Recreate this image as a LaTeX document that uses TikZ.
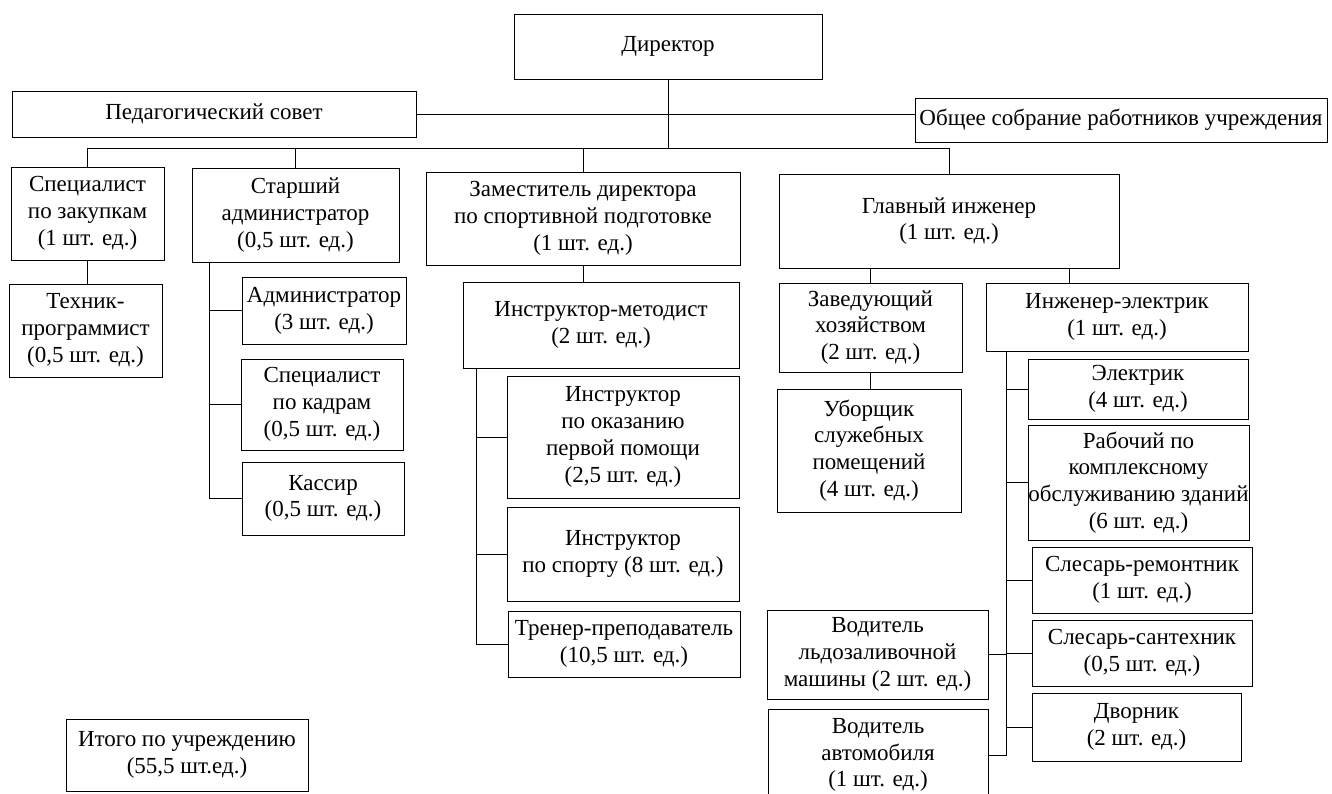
\documentclass[tikz,border=0pt]{standalone}
\usepackage{fontspec}
\setmainfont{Liberation Serif}
\usetikzlibrary{positioning,calc}

\begin{document}
\begin{tikzpicture}[x=1pt, y=-1pt,
						unit/.style={draw, rectangle, align=center, inner sep=0pt, line width=1pt},
						every node/.style={font=\fontsize{23}{26.8}\selectfont},
						link/.style={line width=1pt}]
	\useasboundingbox (0,0) rectangle (1332,793);

	% top level
	\node[unit, minimum width=308pt, minimum height=65pt] (dir) at (668,46.5) {Директор};
	\node[unit, minimum width=404pt, minimum height=46pt] (ped) at (214,114) {Педагогический совет};
	\node[unit, minimum width=412pt, minimum height=44pt] (obs) at (1121,120) {Общее собрание работников учреждения};

	% second level
	\node[unit, minimum width=153pt, minimum height=93pt] (spz) at (87.5,213.5) {Специалист\\по закупкам\\(1 шт. ед.)};
	\node[unit, minimum width=207pt, minimum height=94pt] (stadm) at (295.5,215) {Старший\\администратор\\(0,5 шт. ед.)};
	\node[unit, minimum width=314pt, minimum height=93pt] (zam) at (583,218.5) {Заместитель директора\\по спортивной подготовке\\(1 шт. ед.)};
	\node[unit, minimum width=340pt, minimum height=94pt] (glav) at (949,221) {Главный инженер\\(1 шт. ед.)};

	\node[unit, minimum width=153pt, minimum height=93pt] (tech) at (85.5,330.5) {Техник-\\программист\\(0,5 шт. ед.)};

	\node[unit, minimum width=164pt, minimum height=67pt] (adm) at (324,310.5) {Администратор\\(3 шт. ед.)};
	\node[unit, minimum width=162pt, minimum height=91pt] (kadr) at (322,404.5) {Специалист\\по кадрам\\(0,5 шт. ед.)};
	\node[unit, minimum width=162pt, minimum height=73pt] (kass) at (323,498.5) {Кассир\\(0,5 шт. ед.)};

	\node[unit, minimum width=276pt, minimum height=86pt] (metod) at (601,325) {Инструктор-методист\\(2 шт. ед.)};
	\node[unit, minimum width=232pt, minimum height=122pt] (pervpom) at (623,437) {Инструктор\\по оказанию\\первой помощи\\(2,5 шт. ед.)};
	\node[unit, minimum width=232pt, minimum height=94pt] (sport) at (623,554) {Инструктор\\по спорту (8 шт. ед.)};
	\node[unit, minimum width=232pt, minimum height=66pt] (trener) at (624,644) {Тренер-преподаватель\\(10,5 шт. ед.)};

	\node[unit, minimum width=183pt, minimum height=89pt] (zavhoz) at (870.5,327.5) {Заведующий\\хозяйством\\(2 шт. ед.)};
	\node[unit, minimum width=184pt, minimum height=123pt] (uborsh) at (869,450.5) {Уборщик\\служебных\\помещений\\(4 шт. ед.)};
	\node[unit, minimum width=221pt, minimum height=89pt] (vodled) at (877.5,654.5) {Водитель\\льдозаливочной\\машины (2 шт. ед.)};
	\node[unit, minimum width=220pt, minimum height=92pt] (vodavt) at (878,755) {Водитель\\автомобиля\\(1 шт. ед.)};

	\node[unit, minimum width=262pt, minimum height=68pt] (ingel) at (1117,317) {Инженер-электрик\\(1 шт. ед.)};
	\node[unit, minimum width=220pt, minimum height=60pt] (elektrik) at (1138,389) {Электрик\\(4 шт. ед.)};
	\node[unit, minimum width=221pt, minimum height=115pt] (rabochiy) at (1138.5,482.5) {Рабочий по\\комплексному\\обслуживанию зданий\\(6 шт. ед.)};
	\node[unit, minimum width=220pt, minimum height=66pt] (slrem) at (1142,580) {Слесарь-ремонтник\\(1 шт. ед.)};
	\node[unit, minimum width=220pt, minimum height=66pt] (slsan) at (1142,653) {Слесарь-сантехник\\(0,5 шт. ед.)};
	\node[unit, minimum width=209pt, minimum height=68pt] (dvornik) at (1136.5,727) {Дворник\\(2 шт. ед.)};

	\node[unit, minimum width=242pt, minimum height=72pt] (itogo) at (187,755) {Итого по учреждению\\(55,5 шт.ед.)};

	% connectors
	\coordinate (bus) at (0,148);
	\coordinate (sa) at ([xshift=18pt]stadm.south west);
	\coordinate (ma) at ([xshift=14pt]metod.south west);
	\coordinate (ie) at ([xshift=-48pt]ingel.north);
	\coordinate (ea) at ([xshift=21pt]ingel.south west);

	\draw[link] (ped.east) -- (ped.east -| obs.west);
	\draw[link] (dir.south) -- (dir.south |- bus);
	\draw[link] (spz.north) -- (spz.north |- bus) -- (glav.north |- bus) -- (glav.north);
	\draw[link] (stadm.north) -- (stadm.north |- bus);
	\draw[link] (zam.north) -- (zam.north |- bus);

	\draw[link] (spz.south) -- (spz.south |- tech.north);
	\draw[link] (sa) |- (kass.west);
	\draw[link] (sa |- adm.west) -- (adm.west);
	\draw[link] (sa |- kadr.west) -- (kadr.west);

	\draw[link] (zam.south) -- (zam.south |- metod.north);
	\draw[link] (ma) |- (trener.west);
	\draw[link] (ma |- pervpom.west) -- (pervpom.west);
	\draw[link] (ma |- sport.west) -- (sport.west);

	\draw[link] (zavhoz.north) -- (zavhoz.north |- glav.south);
	\draw[link] (ie) -- (ie |- glav.south);
	\draw[link] (zavhoz.south) -- (zavhoz.south |- uborsh.north);

	\draw[link] (ea) |- (vodavt.east);
	\foreach \n in {elektrik, rabochiy, slrem, slsan, dvornik}
		\draw[link] (ea |- \n.west) -- (\n.west);
	\draw[link] (ea |- vodled.east) -- (vodled.east);
\end{tikzpicture}
\end{document}
